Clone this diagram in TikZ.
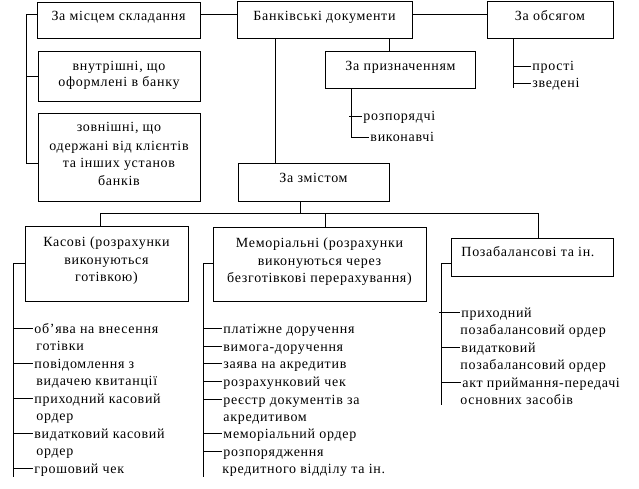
\documentclass[tikz,border=0pt]{standalone}
\usepackage{fontspec}
\setmainfont{Liberation Serif}[LetterSpace=5]
\begin{document}
\begin{tikzpicture}[x=1pt,y=-1pt,line width=0.9pt,
  box/.style={draw,inner sep=0pt},
  bt/.style={font=\fontsize{14}{17}\selectfont,inner sep=0pt,anchor=base},
  it/.style={font=\fontsize{14}{17}\selectfont,inner xsep=1pt,inner ysep=0pt,anchor=west,text height=13pt,text depth=3pt}]
\useasboundingbox (0,0) rectangle (639,489);
% boxes
\node[box,minimum width=163pt,minimum height=36pt] (mz) at (118.5,20) {};
\node[box,minimum width=175pt,minimum height=37pt] (bd) at (324.5,19.5) {};
\node[box,minimum width=126pt,minimum height=37pt] (zo) at (550,19.5) {};
\node[box,minimum width=162pt,minimum height=50pt] (vn) at (119,76) {};
\node[box,minimum width=162pt,minimum height=88pt] (zv) at (119,157) {};
\node[box,minimum width=150pt,minimum height=37pt] (zp) at (400,69.5) {};
\node[box,minimum width=151pt,minimum height=38pt] (zm) at (313.5,182) {};
\node[box,minimum width=163pt,minimum height=75pt] (ka) at (106.5,263.5) {};
\node[box,minimum width=213pt,minimum height=74pt] (me) at (319.5,264) {};
\node[box,minimum width=162pt,minimum height=38pt] (po) at (532,257) {};
% box texts
\node[bt] (tmz) at (118.5,20.5) {За місцем складання};
\node[bt] (tbd) at (324.5,20.5) {Банківські документи};
\node[bt] (tzo) at (550,20.5) {За обсягом};
\node[bt] (tvn1) at (119,70.5) {внутрішні, що};
\node[bt] (tvn2) at (119,87) {оформлені в банку};
\node[bt] (tzv1) at (119,132) {зовнішні, що};
\node[bt] (tzv2) at (119,150) {одержані від клієнтів};
\node[bt] (tzv3) at (119,167.5) {та інших установ};
\node[bt] (tzv4) at (119,185.5) {банків};
\node[bt] (tzp) at (400.5,70.5) {За призначенням};
\node[bt] (tzm) at (313.5,182.5) {За змістом};
\node[bt] (tka1) at (106.5,246.5) {Касові (розрахунки};
\node[bt] (tka2) at (106.5,264) {виконуються};
\node[bt] (tka3) at (106.5,281.5) {готівкою)};
\node[bt] (tme1) at (319.5,247.5) {Меморіальні (розрахунки};
\node[bt] (tme2) at (319.5,265) {виконуються через};
\node[bt] (tme3) at (319.5,282.5) {безготівкові перерахування)};
\node[bt,anchor=base west] (tpo) at (461,256.5) {Позабалансові та ін.};
% top connectors
\coordinate (h14) at (0,14);
\draw (mz.east |- h14) -- (bd.west |- h14);
\draw (bd.east |- h14) -- (zo.west |- h14);
\coordinate (lbT) at (26,14);
\coordinate (lbB) at (26,163);
\draw (mz.west |- lbT) -- (lbT) -- (lbB) -- (zv.west |- lbB);
\draw (lbT |- vn.west) -- (vn.west);
\coordinate (v275) at (275,0);
\draw (bd.south -| v275) -- (zm.north -| v275);
\coordinate (v389) at (389,0);
\draw (bd.south -| v389) -- (zp.north -| v389);
% За призначенням
\node[it] (rz) at (362,116) {розпорядчі};
\node[it] (vk) at (369,137) {виконавчі};
\coordinate (zpB) at (351,138);
\draw (zp.south -| zpB) -- (zpB);
\draw ([xshift=-2pt]zpB |- rz.west) -- (rz.west);
\draw (zpB |- vk.west) -- (vk.west);
% За обсягом
\node[it] (pr) at (531,66) {прості};
\node[it] (zd) at (531,83) {зведені};
\coordinate (zoB) at (513,88);
\draw (zo.south -| zoB) -- (zoB);
\draw (zoB |- pr.west) -- (pr.west);
\draw (zoB |- zd.west) -- (zd.west);
% За змістом tree
\coordinate (hZ) at (300,213);
\coordinate (hL) at (100,213);
\coordinate (hM) at (325,213);
\coordinate (hR) at (538,213);
\draw (zm.south -| hZ) -- (hZ);
\draw (hL) -- (hR);
\draw (hL) -- (ka.north -| hL);
\draw (hM) -- (me.north -| hM);
\draw (hR) -- (po.north -| hR);
% Касові
\coordinate (kT) at (13,263);
\coordinate (kB) at (13,477);
\draw (ka.west |- kT) -- (kT) -- (kB);
\node[it] (k1) at (33,328) {об'ява на внесення};
\node[it] (k1b) at (35,345.5) {готівки};
\node[it] (k2) at (33,363) {повідомлення з};
\node[it] (k2b) at (35,380.5) {видачею квитанції};
\node[it] (k3) at (33,398) {приходний касовий};
\node[it] (k3b) at (35,415.5) {ордер};
\node[it] (k4) at (33,433) {видатковий касовий};
\node[it] (k4b) at (35,450.5) {ордер};
\node[it] (k5) at (33,468) {грошовий чек};
\foreach \n in {k1,k2,k3,k4,k5} \draw (kT |- \n.west) -- (\n.west);
% Меморіальні
\coordinate (mT) at (203,263);
\coordinate (mB) at (203,477);
\draw (me.west |- mT) -- (mT) -- (mB);
\node[it] (m1) at (222,328) {платіжне доручення};
\node[it] (m2) at (222,346) {вимога-доручення};
\node[it] (m3) at (222,363.5) {заява на акредитив};
\node[it] (m4) at (222,381) {розрахунковий чек};
\node[it] (m5) at (222,399) {реєстр документів за};
\node[it] (m5b) at (222,416.5) {акредитивом};
\node[it] (m6) at (222,433.5) {меморіальний ордер};
\node[it] (m7) at (222,451) {розпорядження};
\node[it] (m7b) at (221,468.5) {кредитного відділу та ін.};
\foreach \n in {m1,m2,m3,m4,m5,m6,m7} \draw (mT |- \n.west) -- (\n.west);
% Позабалансові
\coordinate (pT) at (441,263);
\coordinate (pB) at (441,405);
\draw (po.west |- pT) -- (pT) -- (pB);
\node[it] (p1) at (460,312) {приходний};
\node[it] (p1b) at (459,329.5) {позабалансовий ордер};
\node[it] (p2) at (460,347) {видатковий};
\node[it] (p2b) at (459,364.5) {позабалансовий ордер};
\node[it] (p3) at (461,382) {акт приймання-передачі};
\node[it] (p3b) at (459,399.5) {основних засобів};
\draw ([xshift=-2pt]p1.west -| pT) -- (p1.west);
\draw (pT |- p1.west) -- (p1.west);
\draw (pT |- p2.west) -- (p2.west);
\draw (pT |- p3.west) -- (p3.west);
\end{tikzpicture}
\end{document}
